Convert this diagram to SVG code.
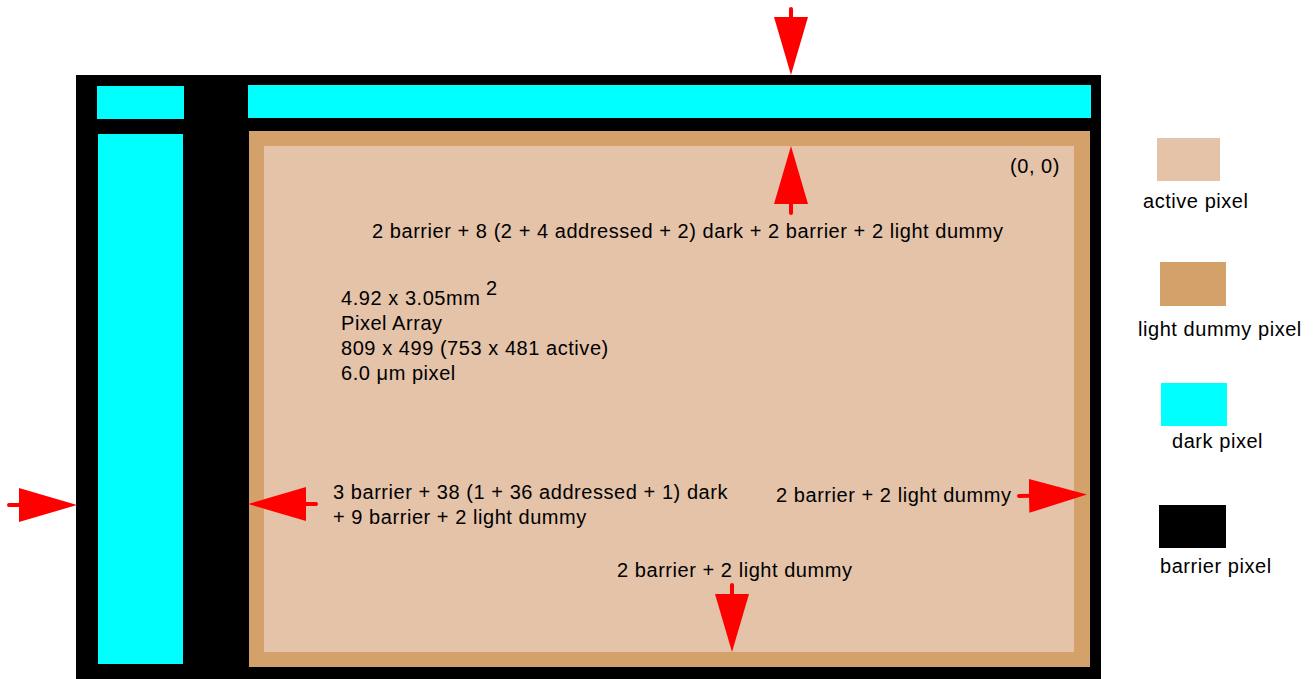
<svg xmlns="http://www.w3.org/2000/svg" width="1315" height="679" viewBox="0 0 1315 679">
<style>
text{font-family:"Liberation Sans",Arial,Helvetica,sans-serif;font-size:20px;letter-spacing:0.55px;fill:#000}
.barrier{fill:#000}
.dark{fill:#00ffff}
.dummy{fill:#d5a16b}
.active{fill:#e4c3a9}
.arr{stroke:#ff0000;stroke-width:4;stroke-linecap:round;fill:none;marker-end:url(#head)}
</style>
<defs>
<marker id="head" markerUnits="userSpaceOnUse" viewBox="0 0 58 34" markerWidth="58" markerHeight="34" refX="38" refY="17" orient="auto">
<path d="M0,0 L58,17 L0,34 Z" fill="#ff0000"/>
</marker>
</defs>
<rect width="1315" height="679" fill="#fff"/>
<g id="sensor">
<rect class="barrier" x="76" y="75" width="1025" height="604"/>
<rect class="dark" x="97" y="86" width="87" height="33"/>
<rect class="dark" x="248" y="85" width="843" height="33"/>
<rect class="dark" x="98" y="134" width="85" height="530"/>
<rect class="dummy" x="249" y="131" width="841" height="536"/>
<rect class="active" x="264" y="146" width="810" height="506"/>
</g>
<g id="labels">
<text x="1010" y="173">(0, 0)</text>
<text x="372" y="238">2 barrier + 8 (2 + 4 addressed + 2) dark + 2 barrier + 2 light dummy</text>
<text x="341" y="305">4.92 x 3.05mm<tspan x="486" dy="-10">2</tspan></text>
<text x="341" y="330">Pixel Array</text>
<text x="341" y="355">809 x 499 (753 x 481 active)</text>
<text x="341" y="380">6.0 μm pixel</text>
<text x="333" y="499">3 barrier + 38 (1 + 36 addressed + 1) dark</text>
<text x="333" y="524">+ 9 barrier + 2 light dummy</text>
<text x="776" y="502">2 barrier + 2 light dummy</text>
<text x="617" y="577">2 barrier + 2 light dummy</text>
</g>
<g id="connectors">
<line class="arr" x1="791" y1="9" x2="791" y2="55"/>
<line class="arr" x1="791" y1="213" x2="791" y2="166"/>
<line class="arr" x1="9" y1="505" x2="57" y2="505"/>
<line class="arr" x1="316" y1="504" x2="268" y2="504"/>
<line class="arr" x1="1019" y1="496" x2="1067" y2="495"/>
<line class="arr" x1="732" y1="585" x2="732" y2="632"/>
</g>
<g id="legend-active">
<rect class="active" x="1157" y="138" width="63" height="43"/>
<text x="1143" y="208">active pixel</text>
</g>
<g id="legend-dummy">
<rect class="dummy" x="1160" y="262" width="66" height="44"/>
<text x="1138" y="336">light dummy pixel</text>
</g>
<g id="legend-dark">
<rect class="dark" x="1161" y="383" width="66" height="43"/>
<text x="1172" y="448">dark pixel</text>
</g>
<g id="legend-barrier">
<rect class="barrier" x="1159" y="505" width="67" height="43"/>
<text x="1160" y="573">barrier pixel</text>
</g>
</svg>
